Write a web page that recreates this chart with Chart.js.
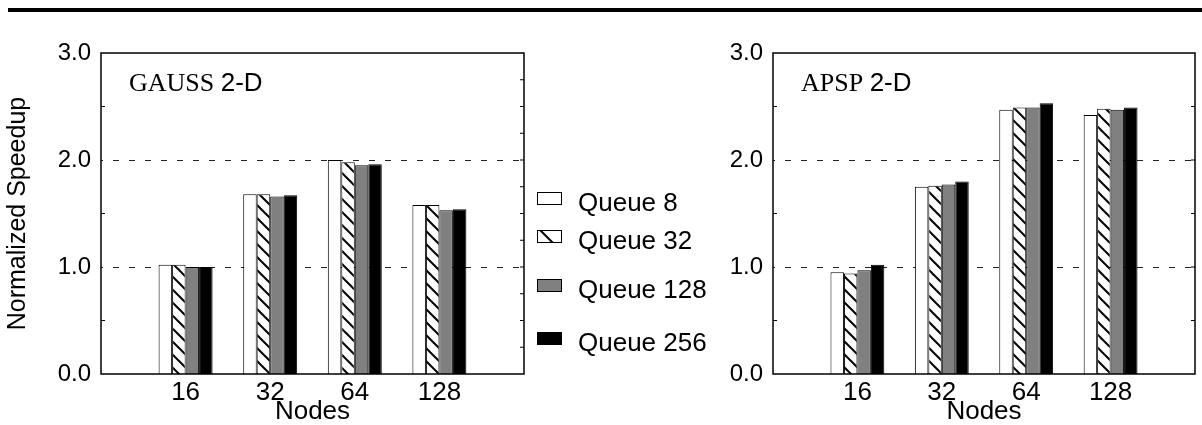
<!DOCTYPE html>
<html><head><meta charset="utf-8">
<script src="https://cdn.jsdelivr.net/npm/chart.js@4.4.0/dist/chart.umd.min.js"></script>
<style>
body{margin:0;background:#fff;width:1202px;height:425px;overflow:hidden;position:relative;font-family:"Liberation Sans",Arial,sans-serif;}
#rule{position:absolute;left:8px;top:8px;width:1194px;height:4px;background:#000;}
canvas{position:absolute;top:0;}
#c1{left:0}
#c2{left:672px}
.lg{position:absolute;left:578px;font-size:26px;line-height:26px;color:#000;white-space:nowrap}
.sw{position:absolute;left:537px;width:23px;height:11px;border:1px solid #000;box-sizing:content-box}
</style></head><body>
<div id="rule"></div>
<canvas id="c1" width="530" height="425"></canvas>
<canvas id="c2" width="530" height="425"></canvas>
<div id="legend"></div>
<script>
// ---- data ----
const nodes = ['16', '32', '64', '128'];
const seriesNames = ['Queue 8', 'Queue 32', 'Queue 128', 'Queue 256'];
const gaussQ8   = [1.02, 1.68, 2.00, 1.58];
const gaussQ32  = [1.02, 1.68, 1.98, 1.58];
const gaussQ128 = [1.00, 1.66, 1.95, 1.53];
const gaussQ256 = [1.00, 1.67, 1.96, 1.54];
const apspQ8    = [0.95, 1.75, 2.47, 2.42];
const apspQ32   = [0.94, 1.76, 2.49, 2.48];
const apspQ128  = [0.97, 1.77, 2.49, 2.47];
const apspQ256  = [1.02, 1.80, 2.53, 2.49];
const yTickValues = [0, 1, 2, 3];
const dashedGridValues = [1, 2];
const gaussLeftMinor = [0.5, 1.5, 2.5];
const gaussRightMinor = [0.25, 0.5, 0.75, 1, 1.25, 1.5, 1.75, 2, 2.25, 2.5, 2.75];
const apspLeftMinor = [0.5, 1.5, 2.5];
const apspRightMinor = [0.5, 1, 1.5, 2, 2.5];

// ---- styles ----
const SANS = '"Liberation Sans", Arial, sans-serif';
const SERIF = '"Liberation Serif", "Times New Roman", serif';
function hatch() {
  const s = 13, c = document.createElement('canvas');
  c.width = s; c.height = s;
  const g = c.getContext('2d');
  g.fillStyle = '#fff'; g.fillRect(0, 0, s, s);
  g.strokeStyle = '#000'; g.lineWidth = 2;
  g.beginPath();
  g.moveTo(-2, -2); g.lineTo(s + 2, s + 2);
  g.moveTo(-2, s - 2); g.lineTo(2, s + 2);
  g.moveTo(s - 2, -2); g.lineTo(s + 2, 2);
  g.stroke();
  return g.createPattern(c, 'repeat');
}
const fills = ['#ffffff', null, '#808080', '#000000'];

function datasets(arrs) {
  const pat = hatch();
  return arrs.map((a, i) => ({
    label: seriesNames[i],
    data: [null, ...a, null],
    backgroundColor: i === 1 ? pat : fills[i],
    borderColor: '#000',
    borderWidth: 1,
    categoryPercentage: 0.638,
    barPercentage: 1
  }));
}

function decoPlugin(titleA, titleB, leftMinor, rightMinor) {
  return {
    id: 'deco',
    beforeDatasetsDraw(chart) {
      const { ctx, chartArea: a, scales: { y } } = chart;
      ctx.save();
      ctx.strokeStyle = '#222'; ctx.lineWidth = 1;
      ctx.setLineDash([6, 10]); ctx.lineDashOffset = -12;
      dashedGridValues.forEach(v => {
        const py = Math.round(y.getPixelForValue(v)) + 0.5;
        ctx.beginPath(); ctx.moveTo(a.left, py); ctx.lineTo(a.right, py); ctx.stroke();
      });
      ctx.restore();
    },
    afterDatasetsDraw(chart) {
      const { ctx, chartArea: a, scales: { y } } = chart;
      ctx.save();
      ctx.strokeStyle = '#000'; ctx.lineWidth = 1.5;
      ctx.strokeRect(a.left, a.top, a.right - a.left, a.bottom - a.top);
      ctx.lineWidth = 1.2;
      ctx.beginPath();
      leftMinor.forEach(v => { const py = y.getPixelForValue(v); ctx.moveTo(a.left, py); ctx.lineTo(a.left + 4, py); });
      rightMinor.forEach(v => { const py = y.getPixelForValue(v); ctx.moveTo(a.right, py); ctx.lineTo(a.right - 4, py); });
      ctx.stroke();
      ctx.fillStyle = '#000';
      ctx.textBaseline = 'alphabetic';
      ctx.font = '26px ' + SERIF;
      const x0 = a.left + 28, by = a.top + 38;
      ctx.fillText(titleA, x0, by);
      const w = ctx.measureText(titleA + ' ').width;
      ctx.font = '26px ' + SANS;
      ctx.fillText(titleB, x0 + w, by);
      ctx.restore();
    }
  };
}

function makeChart(id, arrs, showYTitle, rightPad, deco) {
  return new Chart(document.getElementById(id), {
    type: 'bar',
    data: { labels: ['', ...nodes, ''], datasets: datasets(arrs) },
    options: {
      responsive: false, animation: false,
      layout: { padding: { top: 53, right: rightPad, left: 0, bottom: 0 } },
      plugins: { legend: { display: false }, tooltip: { enabled: false } },
      scales: {
        x: {
          offset: false,
          grid: { display: false, drawTicks: false },
          border: { display: false },
          ticks: { color: '#000', font: { family: SANS, size: 26 }, padding: 3, maxRotation: 0, autoSkip: false },
          title: { display: true, text: 'Nodes', color: '#000', font: { family: SANS, size: 26, lineHeight: 1 }, padding: { top: 0, bottom: 0 } },
          afterFit(s) { s.height = 51; }
        },
        y: {
          min: 0, max: 3,
          afterBuildTicks(s) { s.ticks = yTickValues.map(v => ({ value: v })); },
          grid: { display: false, drawTicks: false },
          border: { display: false },
          ticks: { color: '#000', font: { family: SANS, size: 24 }, padding: 10, callback: v => Number(v).toFixed(1) },
          title: { display: showYTitle, text: 'Normalized Speedup', color: '#000', font: { family: SANS, size: 25, lineHeight: 1 }, padding: { top: 6, bottom: 0 } },
          afterFit(s) { s.width = 101; }
        }
      }
    },
    plugins: [deco]
  });
}

makeChart('c1', [gaussQ8, gaussQ32, gaussQ128, gaussQ256], true, 6,
  decoPlugin('GAUSS', '2-D', gaussLeftMinor, gaussRightMinor));
makeChart('c2', [apspQ8, apspQ32, apspQ128, apspQ256], false, 7,
  decoPlugin('APSP', '2-D', apspLeftMinor, apspRightMinor));

// ---- legend (HTML) ----
const legendTops = [192, 230, 279, 332];
const lg = document.getElementById('legend');
seriesNames.forEach((name, i) => {
  const sw = document.createElement('div');
  sw.className = 'sw';
  sw.style.top = legendTops[i] + 'px';
  if (i === 1) {
    sw.style.background = '#fff';
    sw.innerHTML = '<svg width="23" height="11" style="display:block"><line x1="2" y1="-1" x2="15" y2="12" stroke="#000" stroke-width="2"/></svg>';
  } else {
    sw.style.background = fills[i];
  }
  lg.appendChild(sw);
  const t = document.createElement('div');
  t.className = 'lg';
  t.style.top = (legendTops[i] - 3) + 'px';
  t.textContent = name;
  lg.appendChild(t);
});
</script>
</body></html>
